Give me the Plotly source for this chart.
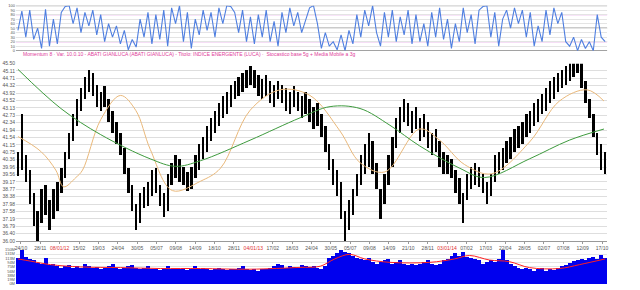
import plotly.graph_objects as go
from plotly.subplots import make_subplots

# ---------------- data ----------------
date_labels = ["24/10", "28/11", "08/01/12", "15/02", "19/03", "24/04", "30/05", "05/07",
               "09/08", "14/09", "18/10", "28/11", "04/01/13", "17/02", "18/03", "24/04",
               "30/05", "05/07", "09/08", "14/09", "21/10", "28/11", "03/01/14", "07/02",
               "17/03", "22/04", "28/05", "02/07", "07/08", "12/09", "17/10"]
year_labels = {"08/01/12", "04/01/13", "03/01/14"}

price_ticks = ["45.50", "45.11", "44.71", "44.32", "43.92", "43.52", "43.13", "42.73",
               "42.34", "41.94", "41.54", "41.15", "40.75", "40.36", "39.96", "39.56",
               "39.17", "38.77", "38.38", "37.98", "37.58", "37.19", "36.79", "36.40", "36.00"]
vol_ticks = ["150M", "131M", "113M", "94M", "75M", "56M", "38M", "19M", "0M"]
osc_ticks = ["100", "90", "80", "70", "60", "50", "40", "30", "20", "10", "0"]

price_lo = [39.5, 39.8, 39.2, 38.0, 36.8, 36.0, 37.0, 37.4, 36.6, 37.2,
            37.6, 38.6, 39.4, 40.4, 41.4, 42.2, 43.0, 43.6, 44.0, 43.8,
            43.2, 43.0, 43.2, 42.4, 41.8, 41.2, 40.6, 39.6, 38.6, 37.6,
            36.6, 37.0, 37.8, 37.9, 38.4, 38.6, 37.9, 37.3, 37.6, 39.0,
            39.4, 39.2, 39.0, 38.7, 38.8, 39.4, 39.8, 40.4, 40.8, 41.4,
            41.8, 42.2, 42.6, 42.8, 43.2, 43.6, 43.8, 44.0, 44.2, 44.4,
            44.2, 43.8, 43.6, 43.8, 43.4, 43.2, 43.6, 43.4, 43.0, 42.8,
            43.2, 43.0, 42.6, 42.8, 42.4, 42.0, 42.2, 41.6, 40.8, 39.8,
            39.0, 38.4, 37.2, 36.0, 36.6, 37.4, 38.4, 39.0, 39.6, 40.0,
            39.6, 38.8, 37.2, 38.0, 39.0, 40.0, 41.0, 41.8, 42.4, 42.2,
            41.8, 42.0, 41.4, 41.6, 41.0, 40.6, 40.8, 40.0, 39.6, 39.6,
            39.4, 38.6, 38.0, 37.0, 38.2, 38.8, 39.0, 38.9, 38.6, 38.0,
            38.4, 39.2, 39.6, 39.8, 40.2, 40.4, 40.8, 41.0, 41.2, 41.6,
            41.8, 42.2, 42.4, 42.8, 43.0, 43.4, 43.6, 44.0, 44.2, 44.4,
            44.6, 44.8, 45.0, 44.2, 43.4, 42.6, 41.6, 40.6, 39.8, 39.6]
price_hi = [40.8, 42.8, 40.6, 39.8, 38.6, 37.6, 38.8, 39.0, 38.2, 38.8,
            39.2, 39.9, 40.8, 41.8, 42.8, 43.6, 44.2, 44.8, 45.2, 45.0,
            44.4, 44.0, 44.3, 43.6, 43.0, 42.4, 41.8, 41.0, 39.9, 39.0,
            38.0, 38.6, 38.9, 39.2, 39.8, 39.9, 39.0, 38.6, 39.6, 40.2,
            40.6, 40.4, 40.0, 39.7, 40.0, 40.6, 41.2, 41.6, 42.2, 42.6,
            43.0, 43.4, 43.8, 44.0, 44.4, 44.6, 44.8, 45.0, 45.2, 45.4,
            45.2, 44.9, 44.7, 44.9, 44.6, 44.4, 44.6, 44.4, 44.2, 44.0,
            44.3, 44.0, 43.8, 44.0, 43.6, 43.2, 43.4, 42.8, 42.2, 41.2,
            40.4, 39.8, 39.2, 37.6, 38.2, 38.8, 39.6, 40.6, 41.2, 41.8,
            41.4, 40.2, 38.8, 39.6, 40.6, 41.6, 42.6, 43.2, 43.6, 43.4,
            43.0, 43.2, 42.6, 42.8, 42.4, 41.8, 42.0, 41.4, 40.8, 40.6,
            40.4, 39.8, 39.4, 38.6, 39.6, 40.0, 40.2, 40.0, 39.6, 39.2,
            39.6, 40.6, 40.8, 41.0, 41.4, 41.6, 42.0, 42.2, 42.4, 42.8,
            43.0, 43.4, 43.6, 43.9, 44.2, 44.6, 44.8, 45.0, 45.2, 45.4,
            45.6, 45.8, 45.9, 45.6, 44.6, 43.6, 42.8, 41.8, 41.2, 40.8]

ma_short_idx = [0, 5.8, 9.6, 11.6, 14.7, 16.4, 21, 26, 29.9, 33.6, 39.2, 46.3, 51.4, 58.9,
                66.5, 74.1, 81.7, 86.8, 93.1, 101.9, 107, 113.3, 120.2, 129.8, 137.4, 144.4, 148.7]
ma_short = [41.6, 40.8, 39.8, 38.9, 39.4, 39.8, 42.5, 43.8, 43.0, 40.9, 38.7, 39.2, 39.9, 43.0,
            44.1, 43.8, 41.9, 40.2, 39.7, 42.0, 41.4, 40.1, 39.6, 41.3, 43.5, 44.1, 43.5]

ma_long_idx = [0, 10.9, 21, 33.6, 40, 46.3, 58.9, 71.6, 79.2, 86.8, 94.4, 101.9, 112.1,
               118.4, 129.8, 139.9, 148.7]
ma_long = [45.2, 43.1, 41.7, 40.4, 40.0, 40.3, 41.4, 42.6, 43.2, 43.1, 42.2, 41.1, 39.9,
           39.4, 40.4, 41.4, 42.0]

volume = [115, 150, 120, 110, 105, 95, 90, 115, 85, 90,
          80, 72, 78, 85, 72, 78, 72, 90, 78, 72,
          75, 65, 72, 78, 90, 72, 65, 72, 78, 85,
          72, 65, 72, 78, 65, 68, 62, 72, 78, 65,
          68, 65, 72, 62, 68, 78, 65, 72, 68, 62,
          65, 72, 65, 62, 68, 65, 72, 78, 68, 62,
          65, 58, 65, 68, 72, 78, 90, 85, 72, 78,
          75, 72, 85, 78, 75, 80, 72, 65, 78, 115,
          125, 135, 150, 140, 135, 125, 115, 110, 105, 115,
          98, 90, 98, 105, 110, 90, 98, 105, 90, 85,
          90, 85, 90, 98, 105, 90, 85, 90, 105, 110,
          125, 135, 125, 140, 120, 115, 110, 105, 90, 98,
          105, 98, 110, 150, 105, 90, 78, 72, 65, 72,
          65, 58, 65, 72, 58, 65, 62, 72, 78, 85,
          95, 100, 105, 110, 105, 115, 120, 110, 130, 115]

vol_ma_idx = [0, 3.3, 8.3, 15.9, 26, 36.2, 46.3, 58.9, 71.6, 76.7, 80.4, 84.2, 88, 94.4,
              104.5, 110.8, 114.6, 119.7, 124.7, 129.8, 137.4, 142.5, 149]
vol_ma = [110, 100, 85, 75, 72, 68, 68, 65, 73, 78, 110, 130, 110, 95,
          95, 110, 125, 105, 98, 72, 68, 85, 110]

osc = [45, 88, 30, 90, 25, 50, 5, 92, 10, 70,
       15, 85, 98, 100, 60, 95, 40, 85, 55, 90,
       35, 80, 20, 60, 30, 55, 15, 45, 2, 25,
       8, 70, 30, 85, 15, 80, 25, 90, 10, 95,
       60, 100, 20, 85, 5, 70, 35, 90, 45, 85,
       30, 95, 60, 100, 98, 85, 40, 90, 20, 75,
       15, 80, 30, 90, 20, 65, 10, 85, 40, 95,
       55, 85, 40, 70, 95, 100, 60, 5, 40, 10,
       20, 2, 35, 0, 45, 15, 80, 30, 90, 55,
       100, 40, 10, 85, 30, 90, 20, 75, 35, 90,
       15, 80, 20, 60, 10, 85, 30, 95, 25, 70,
       5, 60, 20, 95, 40, 80, 15, 90, 98, 100,
       30, 85, 10, 70, 90, 50, 95, 60, 90, 30,
       85, 10, 55, 20, 90, 35, 95, 60, 85, 20,
       10, 30, 0, 25, 5, 20, 0, 80, 30, 20]

title_text = ("Momentum 8 · Var. 10.0.10 - ABATI GIANLUCA (ABATI GIANLUCA) - Titolo: "
              "INDICE ENERGENTE (LUCA) ·  Stocastico base 5g + Media Mobile a 3g")

# ---------------- figure ----------------
idx = list(range(len(price_lo)))
W, H = 640, 290
FONT = "Liberation Sans"
TICKC = "#555555"

fig = make_subplots(rows=3, cols=1, shared_xaxes=True, vertical_spacing=0.02)

fig.add_trace(go.Scatter(x=idx, y=osc, mode="lines",
                         line=dict(color="#4f7fe0", width=1.1), hoverinfo="skip"), row=1, col=1)

fig.add_trace(go.Bar(x=idx, y=[h - l for h, l in zip(price_hi, price_lo)], base=price_lo,
                     marker=dict(color="black", line=dict(width=0)), width=0.6), row=2, col=1)
fig.add_trace(go.Scatter(x=ma_short_idx, y=ma_short, mode="lines", line_shape="spline",
                         line=dict(color="#e9b87a", width=1)), row=2, col=1)
fig.add_trace(go.Scatter(x=ma_long_idx, y=ma_long, mode="lines", line_shape="spline",
                         line=dict(color="#3d9a3d", width=1)), row=2, col=1)

fig.add_trace(go.Bar(x=idx, y=volume, marker=dict(color="#0000ee", line=dict(width=0)),
                     width=1.0), row=3, col=1)
fig.add_trace(go.Scatter(x=vol_ma_idx, y=vol_ma, mode="lines", line_shape="spline",
                         line=dict(color="#ff2020", width=1)), row=3, col=1)

x0, x1 = 15 / W, 608 / W
xr = [-0.5, len(idx) - 0.5]
tickpos = [0.76 + 4.915 * k for k in range(len(date_labels))]
ticktxt = [("<span style='color:#e03030'>%s</span>" % d) if d in year_labels else d
           for d in date_labels]

def ydom(top_px, bot_px):
    return [1 - bot_px / H, 1 - top_px / H]

small = dict(family=FONT, size=5, color=TICKC)
tiny = dict(family=FONT, size=4, color=TICKC)

fig.update_layout(
    width=W, height=H, margin=dict(l=0, r=0, t=0, b=0),
    paper_bgcolor="white", plot_bgcolor="white", showlegend=False, bargap=0,
    xaxis=dict(domain=[x0, x1], range=xr, showticklabels=False, showgrid=False, zeroline=False),
    xaxis2=dict(domain=[x0, x1], range=xr, tickvals=tickpos, ticktext=ticktxt,
                showticklabels=True, tickfont=small, ticks="outside", ticklen=2,
                tickcolor="#999999", showline=True, linecolor="#999999", linewidth=1,
                showgrid=False, zeroline=False),
    xaxis3=dict(domain=[x0, x1], range=xr, showticklabels=False, showgrid=False, zeroline=False),
    yaxis=dict(domain=ydom(2.7, 48.7), range=[0, 100], tickvals=[100 - 10 * k for k in range(11)],
               ticktext=osc_ticks, tickfont=tiny, showgrid=True, gridcolor="#e4e4e4",
               gridwidth=1, zeroline=False, ticklen=0),
    yaxis2=dict(domain=ydom(62, 243), range=[36.0, 45.5],
                tickvals=[float(t) for t in price_ticks], ticktext=price_ticks, tickfont=small,
                showgrid=True, gridcolor="#dedede", gridwidth=1, zeroline=False, ticklen=0),
    yaxis3=dict(domain=ydom(252, 287), range=[0, 150],
                tickvals=[150 - 18.75 * k for k in range(9)], ticktext=vol_ticks, tickfont=tiny,
                showgrid=True, gridcolor="#e4e4e4", zeroline=False, ticklen=0),
    yaxis4=dict(overlaying="y", side="right", anchor="x", range=[0, 100],
                tickvals=[100 - 10 * k for k in range(11)], ticktext=osc_ticks,
                tickfont=tiny, showgrid=False, zeroline=False, ticklen=0),
    yaxis5=dict(overlaying="y2", side="right", anchor="x2", range=[36.0, 45.5],
                tickvals=[float(t) for t in price_ticks], ticktext=price_ticks,
                tickfont=small, showgrid=False, zeroline=False, ticklen=0),
    yaxis6=dict(overlaying="y3", side="right", anchor="x3", range=[0, 150],
                tickvals=[150 - 18.75 * k for k in range(9)], ticktext=vol_ticks,
                tickfont=tiny, showgrid=False, zeroline=False, ticklen=0),
)

# reference levels in the oscillator panel
for lvl, col in [(100, "#666666"), (50, "#666666"), (0, "#666666"), (80, "#cc44cc"), (20, "#cc44cc")]:
    fig.add_shape(type="line", xref="x domain", yref="y", x0=0, x1=1, y0=lvl, y1=lvl,
                  line=dict(color=col, width=1), layer="below")

fig.add_annotation(text=title_text, xref="paper", yref="paper", x=20 / W, y=1 - 52 / H,
                   xanchor="left", yanchor="middle", showarrow=False,
                   font=dict(family=FONT, size=5, color="#e0409a"))

fig.write_html("out.html")
